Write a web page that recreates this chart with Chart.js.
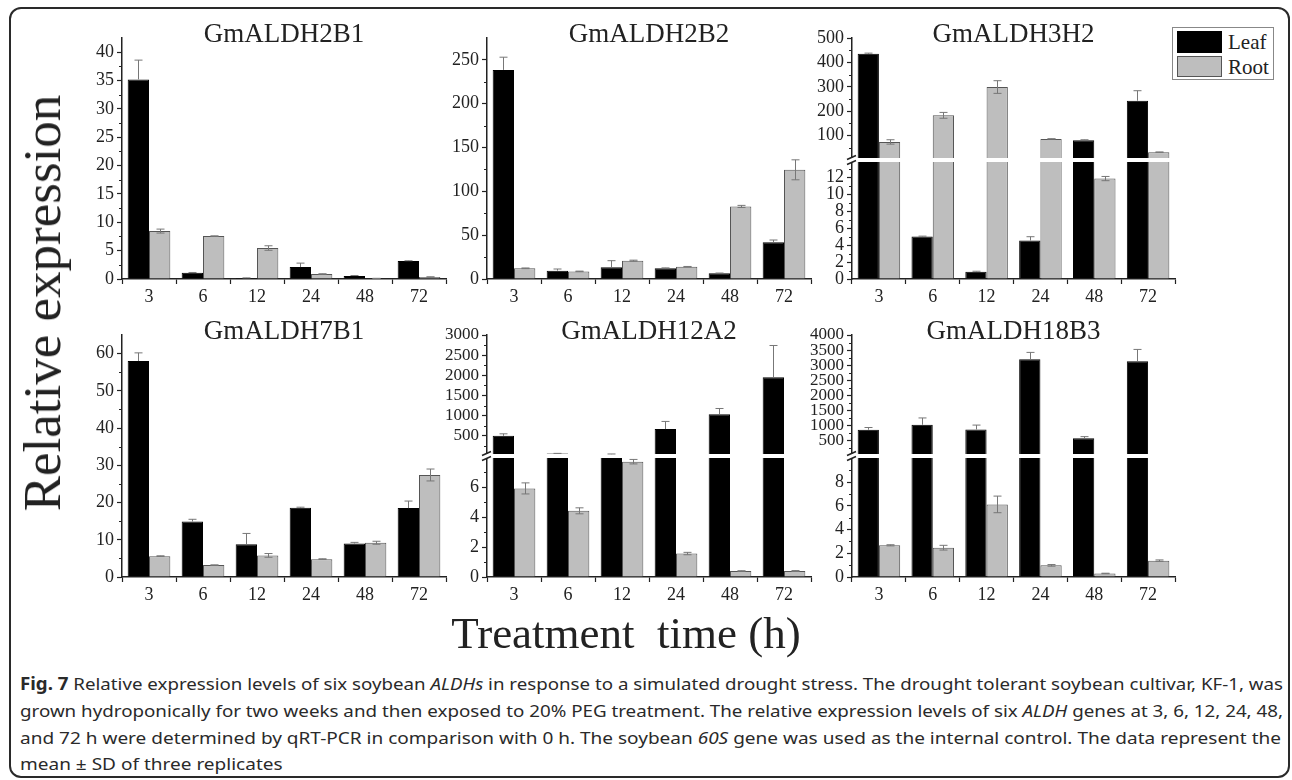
<!DOCTYPE html>
<html>
<head>
<meta charset="utf-8">
<title>Relative expression levels of six soybean ALDHs</title>
<script src="https://cdn.jsdelivr.net/npm/chart.js@4.4.1/dist/chart.umd.min.js"></script>
<style>
  html, body { margin: 0; padding: 0; background: #fff; }
  body { width: 1292px; height: 780px; position: relative; overflow: hidden; color: #222; }
  #frame { position: absolute; left: 9px; top: 7px; width: 1281px; height: 771px; box-sizing: border-box;
           border: 2px solid #2a2a2a; border-radius: 12px; }
  canvas { position: absolute; }
  .serif { font-family: "Liberation Serif", "Times New Roman", serif; position: absolute; white-space: pre; }
  #ylab { font-size: 53px; left: 42px; top: 303px; transform: translate(-50%, -50%) rotate(-90deg); }
  #xlab { font-size: 45px; left: 626px; top: 633px; transform: translate(-50%, -50%); }
  #legend { position: absolute; left: 1172px; top: 27px; width: 102px; height: 53px; box-sizing: border-box;
            border: 1px solid #888; background: #fff; }
  #legend .sw { position: absolute; left: 4px; width: 45px; box-sizing: border-box; }
  #legend .serif { left: 55px; font-size: 21px; line-height: 24px; }
  .cap { position: absolute; left: 20px; white-space: nowrap; font-family: "Noto Sans", "Open Sans", sans-serif;
         font-size: 17px; line-height: 24px; color: #2a2a2a; transform-origin: 0 50%; }
  .cap b { font-weight: 700; }
</style>
</head>
<body>
<div id="frame"></div>

<canvas id="c1"></canvas>
<canvas id="c2"></canvas>
<canvas id="c3"></canvas>
<canvas id="c4"></canvas>
<canvas id="c5"></canvas>
<canvas id="c6"></canvas>

<div id="legend">
  <div class="sw" style="top:3px;height:22px;background:#000"></div>
  <div class="sw" style="top:28px;height:21px;background:#bebebe;border:1px solid #555"></div>
  <span class="serif" style="top:2px">Leaf</span>
  <span class="serif" style="top:27px">Root</span>
</div>

<div id="ylab" class="serif">Relative expression</div>
<div id="xlab" class="serif">Treatment  time (h)</div>

<div class="cap" id="l1" style="top:672px"><b>Fig. 7</b> Relative expression levels of six soybean <i>ALDHs</i> in response to a simulated drought stress. The drought tolerant soybean cultivar, KF-1, was</div>
<div class="cap" id="l2" style="top:699px">grown hydroponically for two weeks and then exposed to 20% PEG treatment. The relative expression levels of six <i>ALDH</i> genes at 3, 6, 12, 24, 48,</div>
<div class="cap" id="l3" style="top:726px">and 72 h were determined by qRT-PCR in comparison with 0 h. The soybean <i>60S</i> gene was used as the internal control. The data represent the</div>
<div class="cap" id="l4" style="top:752px">mean ± SD of three replicates</div>

<script>
// sampling times (h)
const times = ['3', '6', '12', '24', '48', '72'];

// GmALDH2B1
const leaf2B1 = [35.2, 1.1, 0.18, 2.1, 0.53, 3.17];
const leaf2B1Sd = [3.4, 0.05, 0.02, 0.7, 0.08, 0.05];
const root2B1 = [8.45, 7.57, 5.46, 0.88, 0.1, 0.35];
const root2B1Sd = [0.35, 0.03, 0.4, 0.04, 0.02, 0.03];

// GmALDH2B2
const leaf2B2 = [238.6, 9.5, 13.3, 12.2, 6.5, 41.8];
const leaf2B2Sd = [14.5, 1.9, 7.6, 0.5, 0.3, 2.7];
const root2B2 = [12.2, 8.7, 20.9, 14.0, 82.8, 124.6];
const root2B2Sd = [0.4, 0.3, 0.6, 0.3, 1.2, 11.4];

// GmALDH3H2 (broken axis)
const leaf3H2 = [435, 5.03, 0.87, 4.56, 81, 243];
const leaf3H2Sd = [3, 0.05, 0.05, 0.45, 2, 41];
const root3H2 = [74, 183, 299, 86.5, 11.9, 32];
const root3H2Sd = [9, 12, 26, 0.5, 0.25, 1];

// GmALDH7B1
const leaf7B1 = [58.0, 14.9, 8.8, 18.6, 9.0, 18.5];
const leaf7B1Sd = [2.2, 0.6, 2.9, 0.15, 0.3, 1.9];
const root7B1 = [5.6, 3.2, 5.8, 4.8, 9.2, 27.4];
const root7B1Sd = [0.1, 0.05, 0.5, 0.1, 0.4, 1.6];

// GmALDH12A2 (broken axis)
const leaf12A2 = [500, 60, 45, 667, 1038, 1955];
const leaf12A2Sd = [50, 5, 5, 190, 140, 785];
const root12A2 = [5.93, 4.43, 7.72, 1.57, 0.4, 0.4];
const root12A2Sd = [0.37, 0.2, 0.15, 0.08, 0.02, 0.03];

// GmALDH18B3 (broken axis)
const leaf18B3 = [867, 1033, 877, 3200, 590, 3133];
const leaf18B3Sd = [75, 225, 145, 225, 50, 390];
const root18B3 = [2.67, 2.47, 6.12, 0.98, 0.3, 1.38];
const root18B3Sd = [0.05, 0.2, 0.7, 0.07, 0.02, 0.06];

const ink = '#222';
const serif = '"Liberation Serif", "Times New Roman", serif';
Chart.defaults.font.family = serif;
const tickFont = { family: serif, size: 18 };
const tightFont = { family: serif, size: 17, lineHeight: 1 };

const panels = [
  { id: 'c1', title: 'GmALDH2B1', leaf: leaf2B1, leafSd: leaf2B1Sd, root: root2B1, rootSd: root2B1Sd,
    y: { max: 42.5, step: 5 } },
  { id: 'c2', title: 'GmALDH2B2', leaf: leaf2B2, leafSd: leaf2B2Sd, root: root2B2, rootSd: root2B2Sd,
    y: { max: 275, step: 50 } },
  { id: 'c3', title: 'GmALDH3H2', leaf: leaf3H2, leafSd: leaf3H2Sd, root: root3H2, rootSd: root3H2Sd,
    brk: { lowMax: 14.1, lowStep: 2, highMax: 500, highStep: 100, wLow: 119, wHigh: 122 } },
  { id: 'c4', title: 'GmALDH7B1', leaf: leaf7B1, leafSd: leaf7B1Sd, root: root7B1, rootSd: root7B1Sd,
    y: { max: 65, step: 10 } },
  { id: 'c5', title: 'GmALDH12A2', leaf: leaf12A2, leafSd: leaf12A2Sd, root: root12A2, rootSd: root12A2Sd,
    brk: { lowMax: 8.1, lowStep: 2, highMax: 3000, highStep: 500, wLow: 121, wHigh: 121 } },
  { id: 'c6', title: 'GmALDH18B3', leaf: leaf18B3, leafSd: leaf18B3Sd, root: root18B3, rootSd: root18B3Sd,
    brk: { lowMax: 10.2, lowStep: 2, highMax: 4000, highStep: 500, wLow: 121, wHigh: 121 } }
];

// plot areas on the page
const boxes = {
  c1: { left: 122, top: 38, width: 324, height: 241 },
  c2: { left: 487, top: 38, width: 324, height: 241 },
  c3: { left: 852, top: 38, width: 323, height: 241 },
  c4: { left: 122, top: 335, width: 324, height: 242 },
  c5: { left: 487, top: 335, width: 324, height: 242 },
  c6: { left: 852, top: 335, width: 323, height: 242 }
};

function yAxis(max, step, hide, font, extra) {
  return Object.assign({
    type: 'linear', position: 'left', min: 0, max: max, stacked: false,
    grid: { drawOnChartArea: false, tickLength: 5, tickWidth: 1.2,
            tickColor: c => (c.tick && hide(c.tick.value)) ? 'rgba(0,0,0,0)' : ink },
    border: { color: ink, width: 1.5 },
    ticks: { stepSize: step, autoSkip: false, includeBounds: false, padding: 3, color: ink, font: font,
             callback: v => hide(v) ? '' : String(v) },
    afterFit: s => { s.width = 70; }
  }, extra || {});
}

function bars(label, values, sd, fill, edge, axis, part, cut) {
  return {
    label: label, stack: label, yAxisID: axis,
    data: values.map(v => part === 'low' ? Math.min(v, cut) : part === 'high' ? (v > cut ? v : null) : v),
    backgroundColor: fill, borderColor: edge, borderWidth: 1,
    barPercentage: 1, categoryPercentage: 0.79,
    vals: values, sd: sd, part: part, cut: cut, upOnly: label === 'Leaf'
  };
}

function decor(p, minors) {
  return {
    id: 'decor' + p.id,
    afterDraw(chart) {
      const ctx = chart.ctx;
      const area = chart.chartArea;
      ctx.save();
      // minor ticks
      ctx.strokeStyle = ink; ctx.lineWidth = 1;
      for (const key in minors) {
        const sc = chart.scales[key];
        const m = minors[key];
        for (let v = sc.min + m.minor; v < sc.max; v += m.minor) {
          const r = v / m.major;
          if (Math.abs(r - Math.round(r)) < 1e-6) continue;
          const y = Math.round(sc.getPixelForValue(v)) + 0.5;
          ctx.beginPath(); ctx.moveTo(area.left - 3, y); ctx.lineTo(area.left, y); ctx.stroke();
        }
      }
      // axis break band
      let b = null;
      if (p.brk) {
        b = chart.scales.yHigh.bottom;
        ctx.fillStyle = '#fff';
        ctx.fillRect(area.left - 7, b - 2, area.right - area.left + 9, 4);
      }
      // error bars
      ctx.strokeStyle = '#777'; ctx.lineWidth = 1;
      chart.data.datasets.forEach((ds, i) => {
        const meta = chart.getDatasetMeta(i);
        const sc = chart.scales[ds.yAxisID];
        ds.vals.forEach((v, j) => {
          if (ds.part === 'low' && v > ds.cut) return;
          if (ds.part === 'high' && v <= ds.cut) return;
          const x = Math.round(meta.data[j].x) + 0.5;
          const yT = sc.getPixelForValue(v + ds.sd[j]);
          const yB = sc.getPixelForValue(ds.upOnly ? v : Math.max(v - ds.sd[j], 0));
          ctx.beginPath();
          ctx.moveTo(x, yT); ctx.lineTo(x, yB);
          ctx.moveTo(x - 4, yT); ctx.lineTo(x + 4, yT);
          if (!ds.upOnly) { ctx.moveTo(x - 4, yB); ctx.lineTo(x + 4, yB); }
          ctx.stroke();
        });
      });
      // break marks on the y axis
      if (b !== null) {
        ctx.strokeStyle = ink; ctx.lineWidth = 1.4;
        for (const yy of [b - 2.5, b + 2.5]) {
          ctx.beginPath(); ctx.moveTo(area.left - 5, yy + 2); ctx.lineTo(area.left + 4, yy - 2); ctx.stroke();
        }
      }
      // panel title
      ctx.fillStyle = ink;
      ctx.font = '27px ' + serif;
      ctx.textAlign = 'center'; ctx.textBaseline = 'middle';
      ctx.fillText(p.title, (area.left + area.right) / 2, area.top - 3);
      ctx.restore();
    }
  };
}

function makeChart(p) {
  const g = boxes[p.id];
  const cv = document.getElementById(p.id);
  const padTop = 42, axisW = 70, axisH = 34, padRight = 10;
  cv.width = axisW + g.width + padRight;
  cv.height = padTop + g.height + axisH;
  cv.style.left = (g.left - axisW) + 'px';
  cv.style.top = (g.top - padTop) + 'px';

  const scales = {
    x: {
      type: 'category', offset: true,
      grid: { offset: true, drawOnChartArea: false, tickLength: 5, color: ink, tickColor: ink, tickWidth: 1.2 },
      border: { color: ink, width: 1.5 },
      ticks: { color: ink, font: tickFont, padding: 2, maxRotation: 0, autoSkip: false },
      afterFit: s => { s.height = axisH; }
    }
  };
  const minors = {};
  let datasets;
  if (p.brk) {
    const k = p.brk;
    scales.yLow = yAxis(k.lowMax, k.lowStep, v => v > k.lowMax - 1.5, tickFont, { stack: 'v', stackWeight: k.wLow });
    scales.yHigh = yAxis(k.highMax, k.highStep, v => v <= 0, k.highMax > 1000 ? tightFont : tickFont,
                         { stack: 'v', stackWeight: k.wHigh });
    minors.yLow = { major: k.lowStep, minor: k.lowStep / 2 };
    minors.yHigh = { major: k.highStep, minor: k.highStep / 2 };
    datasets = [
      bars('Leaf', p.leaf, p.leafSd, '#000', '#000', 'yLow', 'low', k.lowMax),
      bars('Leaf', p.leaf, p.leafSd, '#000', '#000', 'yHigh', 'high', k.lowMax),
      bars('Root', p.root, p.rootSd, '#bebebe', '#555', 'yLow', 'low', k.lowMax),
      bars('Root', p.root, p.rootSd, '#bebebe', '#555', 'yHigh', 'high', k.lowMax)
    ];
  } else {
    scales.y = yAxis(p.y.max, p.y.step, v => false, tickFont);
    minors.y = { major: p.y.step, minor: p.y.step / 2 };
    datasets = [
      bars('Leaf', p.leaf, p.leafSd, '#000', '#000', 'y', 'all', Infinity),
      bars('Root', p.root, p.rootSd, '#bebebe', '#555', 'y', 'all', Infinity)
    ];
  }

  new Chart(cv, {
    type: 'bar',
    data: { labels: times, datasets: datasets },
    options: {
      responsive: false,
      animation: false,
      events: [],
      layout: { padding: { top: padTop, right: padRight, left: 0, bottom: 0 } },
      plugins: { legend: { display: false }, title: { display: false }, tooltip: { enabled: false } },
      scales: scales
    },
    plugins: [decor(p, minors)]
  });
}

panels.forEach(makeChart);

// squeeze caption lines to the printed widths
function fitCaption() {
  const targets = { l1: 1263, l2: 1263, l3: 1261 };
  let last = 1;
  ['l1', 'l2', 'l3'].forEach(id => {
    const el = document.getElementById(id);
    el.style.transform = 'none';
    const w = el.getBoundingClientRect().width;
    last = targets[id] / w;
    el.style.transform = 'scaleX(' + last + ')';
  });
  document.getElementById('l4').style.transform = 'scaleX(' + last + ')';
}
fitCaption();
if (document.fonts) document.fonts.ready.then(fitCaption);
</script>
</body>
</html>
